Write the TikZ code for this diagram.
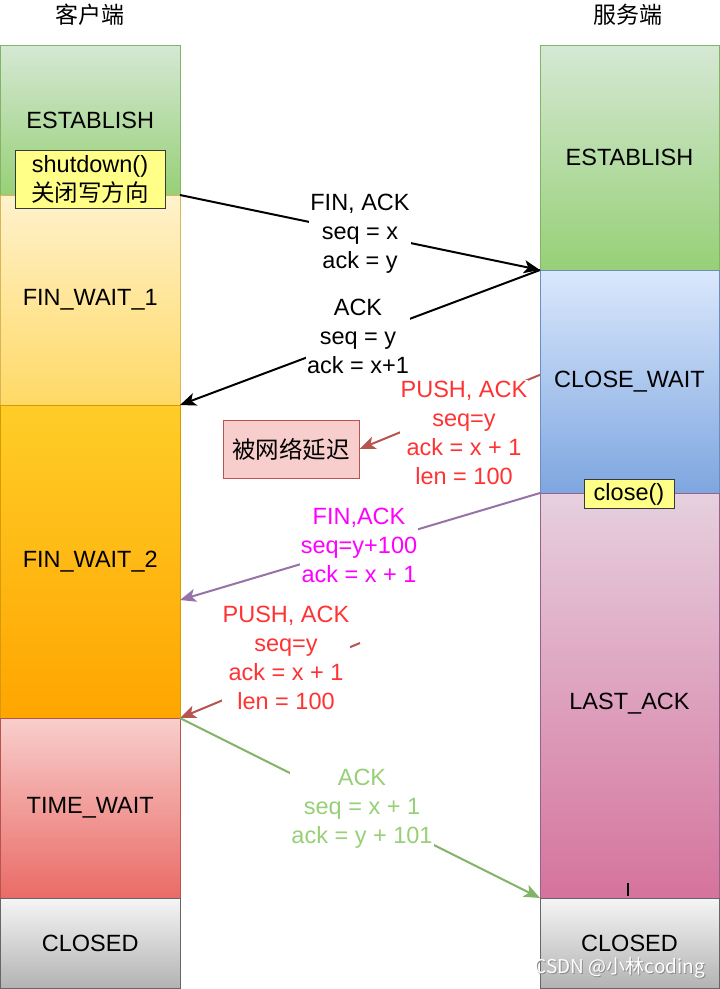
\documentclass[tikz,border=0pt]{standalone}
\usepackage{fontspec}
\setmainfont{Liberation Sans}
\newfontfamily\cjk{Noto Sans CJK SC}
\usetikzlibrary{arrows.meta,calc}
\definecolor{gT}{HTML}{D5E8D4}\definecolor{gB}{HTML}{97D077}\definecolor{gL}{HTML}{82B366}
\definecolor{yT}{HTML}{FFF2CC}\definecolor{yB}{HTML}{FFD966}\definecolor{yL}{HTML}{D6B656}
\definecolor{oT}{HTML}{FFCD28}\definecolor{oB}{HTML}{FFA500}\definecolor{oL}{HTML}{D79B00}
\definecolor{rT}{HTML}{F8CECC}\definecolor{rB}{HTML}{EA6B66}\definecolor{rL}{HTML}{B85450}
\definecolor{kT}{HTML}{F5F5F5}\definecolor{kB}{HTML}{B3B3B3}\definecolor{kL}{HTML}{666666}
\definecolor{bT}{HTML}{DAE8FC}\definecolor{bB}{HTML}{7EA6E0}\definecolor{bL}{HTML}{6C8EBF}
\definecolor{pT}{HTML}{E6D0DE}\definecolor{pB}{HTML}{D5739D}\definecolor{pL}{HTML}{996185}
\definecolor{noteF}{HTML}{FFFF88}\definecolor{noteL}{HTML}{36393D}
\definecolor{txtRed}{HTML}{FF3333}\definecolor{txtMag}{HTML}{FF00FF}\definecolor{txtGrn}{HTML}{97D077}
\definecolor{arPur}{HTML}{9673A6}
\begin{document}
\begin{tikzpicture}[x=1pt,y=-1pt,
  font=\fontsize{23.5}{29}\selectfont,
  blk/.style={draw, line width=1pt, inner sep=0pt, outer sep=0pt, anchor=north west},
  lcol/.style={blk, minimum width=179.5pt},
  rcol/.style={blk, minimum width=179pt},
  notebox/.style={draw=noteL, fill=noteF, line width=1pt, inner sep=0pt, align=center},
  arr/.style={line width=2pt, -{Stealth[length=16pt,width=13pt,inset=4pt]}},
  lbl/.style={fill=white, align=center, inner sep=1pt}]
\useasboundingbox (0,0) rectangle (720,989);
\fill[white] (0,0) rectangle (720,989);

% headers
\node (hc) at (90,15) {\cjk\fontsize{23}{26}\selectfont 客户端};
\node (hs) at (628,15) {\cjk\fontsize{23}{26}\selectfont 服务端};

% client column
\node[lcol, minimum height=150pt, top color=gT, bottom color=gB, draw=gL] (cEst) at (0.5,45) {ESTABLISH};
\node[lcol, minimum height=210pt, top color=yT, bottom color=yB, draw=yL] (cFW1) at (0.5,195) {FIN\_WAIT\_1};
\node[lcol, minimum height=313pt, top color=oT, bottom color=oB, draw=oL] (cFW2) at (0.5,405) {FIN\_WAIT\_2};
\node[lcol, minimum height=180pt, top color=rT, bottom color=rB, draw=rL] (cTW) at (0.5,718) {TIME\_WAIT};
\node[lcol, minimum height=90pt, top color=kT, bottom color=kB, draw=kL] (cCl) at (0.5,898) {CLOSED};

% server column
\node[rcol, minimum height=225pt, top color=gT, bottom color=gB, draw=gL] (sEst) at (540,45) {ESTABLISH};
\node[rcol, minimum height=223pt, top color=bT, bottom color=bB, draw=bL] (sCW) at (540,270) {CLOSE\_WAIT};
\node[rcol, minimum height=405pt, top color=pT, bottom color=pB, draw=pL] (sLA) at (540,493) {\raisebox{-14pt}[0pt][0pt]{LAST\_ACK}};
\node[rcol, minimum height=90pt, top color=kT, bottom color=kB, draw=kL] (sCl) at (540,898) {CLOSED};

% notes
\node[notebox, minimum width=150pt, minimum height=58pt] (sd) at (90,179) {shutdown()\\{\cjk 关闭写方向}};
\node[notebox, minimum width=90pt, minimum height=29pt] (cls) at (629,494) {close()};
\node[draw=rL, fill=rT, line width=1pt, inner sep=0pt, minimum width=136pt, minimum height=58pt] (dly) at (291,449) {\cjk 被网络延迟};

% connectors
\coordinate (p3) at ($(sCW.north west)!0.47!(sCW.south west)$);
\coordinate (p4) at ($(cFW2.north east)!0.623!(cFW2.south east)$);
\coordinate (p5) at (360,643);
\draw[arr, black] (cFW1.north east) -- (sEst.south west);
\draw[arr, black] (sCW.north west) -- (cFW2.north east);
\draw[arr, rL] (p3) -- (dly.east);
\draw[arr, arPur] (sLA.north west) -- (p4);
\draw[arr, rL] (p5) -- (cTW.north east);
\draw[arr, gL] (cTW.north east) -- (sCl.north west);

% labels
\node[lbl] (l1) at (360,234) {FIN, ACK\\seq = x\\ack = y};
\node[lbl] (l2) at (358,336) {ACK\\seq = y\\ack = x+1};
\node[lbl, text=txtRed] (l3) at (464,433) {PUSH, ACK\\seq=y\\ack = x + 1\\len = 100};
\node[lbl, text=txtMag] (l4) at (359,545) {FIN,ACK\\seq=y+100\\ack = x + 1};
\node[lbl, text=txtRed] (l5) at (286,658) {PUSH, ACK\\seq=y\\ack = x + 1\\len = 100};
\node[lbl, text=txtGrn] (l6) at (362,809) {ACK\\seq = x + 1\\ack = y + 101};

% small tick
\draw[line width=1.2pt] (628,883) -- (628,896);

% watermark
\node[text=black!45, font=\cjk\fontsize{19}{22}\selectfont] (wms) at (620.8,968.8) {CSDN @小林coding};
\node[text=white, font=\cjk\fontsize{19}{22}\selectfont] (wm) at (620,968) {CSDN @小林coding};
\end{tikzpicture}
\end{document}
